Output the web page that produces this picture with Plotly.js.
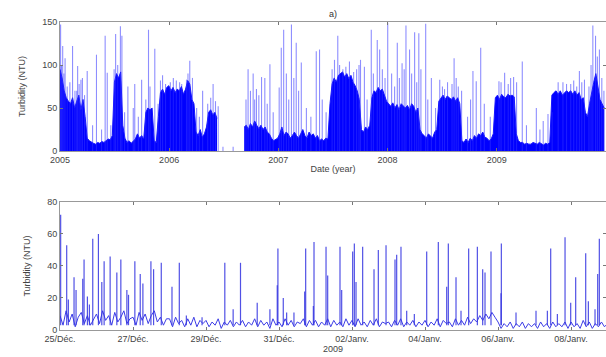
<!DOCTYPE html>
<html><head><meta charset="utf-8">
<script src="https://cdn.plot.ly/plotly-3.0.1.min.js"></script>
<style>html,body{margin:0;padding:0;background:#fff}#chart{width:606px;height:357px}</style>
</head><body><div id="chart"></div>
<script>
// ---------- Panel a) : 2005-2009, weekly level of the dense record (from 2005-01-01) ----------
const topWeeklyLevel = [
  // 2005
  95,85,70,62,58, 55,62,50,58, 65,48,60,40, 15,12,10,9, 8,10,9,11,10, 12,14,13,18,
  80,90,85,92,30, 15,10,12,9, 12,14,20,15, 18,14,45,50,48, 50,12,10,40, 68,72,66,74,
  // 2006
  76,70,74,68,72, 70,75,66,72, 82,78,60,55, 22,18,25,16, 20,28,45,48,42, 45,38,null,null,
  null,null,null,null,null, null,null,null,null, null,28,30,25, 32,28,35,30,26, 30,25,28,22, 20,15,12,14,
  // 2007
  15,20,28,18,22, 20,15,18,22, 18,15,20,25, 18,15,22,18, 20,15,18,12,14, 12,15,14,55,
  78,85,80,88,90, 92,86,90,84, 88,80,76,70, 60,25,22,28,25, 30,62,70,68, 74,70,72,66,
  // 2008
  58,55,52,56,50, 54,48,55,52, 50,53,48,55, 52,45,50,25, 20,18,15,20,18, 15,22,25,58,
  62,65,60,64,62, 60,63,58,62, 55,12,10,14, 10,15,12,18,15, 20,18,22,16, 15,12,14,20,
  // 2009
  62,65,60,66,63, 62,66,64,65, 63,20,12,10, 10,8,9,8, 8,10,9,8,10, 8,7,9,8,
  10,65,68,70,66, 70,65,68,70, 68,70,66,70, 65,68,60,62,45, 40,55,70,80, 90,75,60,55,50
];
const topPeakDates = [
  '2005-01-03','2005-01-06','2005-01-10','2005-01-14','2005-01-18','2005-01-25','2005-02-03','2005-02-12','2005-02-20','2005-02-26',
  '2005-03-01','2005-03-06','2005-03-12','2005-03-17','2005-03-24','2005-04-02','2005-04-20','2005-05-03','2005-05-20','2005-06-01',
  '2005-06-08','2005-06-20','2005-07-01','2005-07-06','2005-07-13','2005-07-22','2005-07-27','2005-08-05','2005-08-16','2005-09-03',
  '2005-09-08','2005-09-20','2005-10-01','2005-10-15','2005-10-24','2005-10-29','2005-11-14','2005-11-25','2005-12-03','2005-12-10',
  '2005-12-20','2006-01-05','2006-01-15','2006-01-25','2006-02-05','2006-02-12','2006-02-28','2006-03-05','2006-03-11','2006-03-20',
  '2006-04-03','2006-04-12','2006-04-23','2006-05-10','2006-05-20','2006-05-28','2006-06-05','2006-06-14','2006-06-30','2006-08-03',
  '2006-09-15','2006-09-22','2006-09-30','2006-10-09','2006-10-14','2006-10-20','2006-10-28','2006-11-06','2006-11-17','2006-11-25',
  '2006-12-04','2006-12-15','2007-01-04','2007-01-11','2007-01-19','2007-01-28','2007-02-05','2007-02-14','2007-02-22','2007-03-02',
  '2007-03-10','2007-03-19','2007-04-05','2007-04-20','2007-05-08','2007-05-19','2007-05-28','2007-06-10','2007-06-30','2007-07-08',
  '2007-07-19','2007-07-25','2007-08-05','2007-08-15','2007-08-27','2007-09-10','2007-09-20','2007-09-28','2007-10-03','2007-10-16',
  '2007-10-25','2007-11-08','2007-11-15','2007-11-28','2007-12-06','2007-12-15','2007-12-24','2008-01-02','2008-01-15','2008-01-25',
  '2008-02-03','2008-02-10','2008-02-19','2008-02-26','2008-03-03','2008-03-15','2008-03-22','2008-04-01','2008-04-08','2008-04-15',
  '2008-04-22','2008-05-08','2008-05-15','2008-05-27','2008-06-10','2008-06-24','2008-07-03','2008-07-10','2008-07-20','2008-08-04',
  '2008-08-11','2008-08-18','2008-08-25','2008-09-05','2008-09-25','2008-10-05','2008-10-13','2008-10-24','2008-11-08','2008-11-20',
  '2008-12-10','2009-01-08','2009-01-15','2009-01-27','2009-02-08','2009-02-16','2009-02-26','2009-03-08','2009-03-27','2009-04-10',
  '2009-05-13','2009-05-25','2009-06-05','2009-06-21','2009-07-05','2009-07-25','2009-08-10','2009-08-22','2009-09-05','2009-09-15',
  '2009-09-25','2009-10-04','2009-10-12','2009-10-21','2009-11-05','2009-11-12','2009-11-18','2009-11-27','2009-12-03','2009-12-10',
  '2009-12-18','2009-12-25'
];
const topPeakValues = [
  147,100,122,90,108,75,80,122,70,70,
  99,78,83,85,65,93,30,112,25,134,
  91,30,95,136,100,145,134,45,75,50,
  78,40,83,60,141,75,119,55,82,88,
  78,80,85,82,80,78,83,90,105,85,
  50,40,70,55,62,78,58,52,5,5,
  60,95,70,90,60,72,65,86,85,55,
  101,45,74,120,141,90,60,147,85,126,
  70,103,50,40,116,118,60,45,95,106,
  134,100,95,98,104,92,95,100,106,98,
  60,141,90,129,118,95,85,149,90,75,
  126,85,102,95,146,118,90,138,80,137,
  95,148,60,85,50,83,75,72,80,78,
  108,85,75,70,40,60,93,81,120,55,
  40,81,80,91,78,85,86,80,104,30,
  50,25,35,43,45,80,80,78,78,82,
  75,93,80,83,75,100,146,134,110,118,
  85,70
];

// ---------- Panel b) : 25 Dec 2008 - 8 Jan 2009 ----------
// background level every 2 hours from 2008-12-25 00:00
const lowBaseLevel = [
  9,3,12,5,10,2,8,11,4,9,3,7,
  10,4,12,6,9,3,11,5,8,12,4,7,
  8,3,11,6,10,4,9,12,5,8,3,7,
  7,2,8,4,6,2,7,3,8,2,6,4,
  6,2,5,3,7,1,5,3,6,2,5,3,
  6,2,5,3,7,2,6,3,5,1,7,3,
  5,2,7,3,6,2,5,4,7,2,6,3,
  6,2,5,3,7,2,6,3,5,2,7,3,
  6,2,7,3,5,2,6,3,7,2,5,4,
  5,2,6,3,7,2,5,3,6,2,5,3,
  6,2,5,3,7,2,6,4,5,2,7,3,
  6,3,8,4,7,5,9,6,10,7,11,8,
  5,1,4,2,5,1,4,2,5,1,4,2,
  4,1,5,2,4,1,5,2,4,2,5,1,
  5,2,4,1,6,2,5,1,4,2,5,2,
  4
];
const lowPeakTimes = [
  '2008-12-25 00:26','2008-12-25 04:24','2008-12-25 05:30','2008-12-25 09:14','2008-12-25 10:33','2008-12-25 14:57',
  '2008-12-25 15:49','2008-12-25 18:01','2008-12-25 19:20','2008-12-25 21:32','2008-12-26 01:16','2008-12-26 03:29',
  '2008-12-26 05:01','2008-12-26 08:58','2008-12-26 13:22','2008-12-26 16:00','2008-12-26 19:58','2008-12-26 21:03',
  '2008-12-27 01:13','2008-12-27 04:45','2008-12-27 06:30','2008-12-27 11:47','2008-12-27 13:32','2008-12-27 18:35',
  '2008-12-28 01:38','2008-12-28 06:27','2008-12-28 11:05','2008-12-28 21:24','2008-12-29 12:22','2008-12-29 17:51',
  '2008-12-29 22:41','2008-12-30 09:40','2008-12-30 18:01','2008-12-30 22:51','2008-12-30 23:17','2008-12-31 02:48',
  '2008-12-31 05:01','2008-12-31 09:50','2008-12-31 16:52','2008-12-31 17:32','2008-12-31 22:35','2008-12-31 23:01',
  '2009-01-01 06:55','2009-01-01 08:00','2009-01-01 16:06','2009-01-01 17:12','2009-01-02 00:26','2009-01-02 01:32',
  '2009-01-02 02:38','2009-01-02 07:00','2009-01-02 14:28','2009-01-02 17:18','2009-01-02 22:22','2009-01-03 04:16',
  '2009-01-03 05:22','2009-01-03 08:12','2009-01-03 11:57','2009-01-03 16:59','2009-01-04 01:06','2009-01-04 08:45',
  '2009-01-04 14:15','2009-01-04 15:20','2009-01-04 20:23','2009-01-04 23:40','2009-01-05 04:42','2009-01-05 10:25',
  '2009-01-05 13:55','2009-01-05 15:27','2009-01-05 19:23','2009-01-06 01:58','2009-01-06 02:11','2009-01-06 11:50',
  '2009-01-07 00:59','2009-01-07 08:27','2009-01-07 10:38','2009-01-07 15:02','2009-01-07 20:04','2009-01-07 23:47',
  '2009-01-08 03:04','2009-01-08 09:39','2009-01-08 11:24','2009-01-08 15:47','2009-01-08 17:32','2009-01-08 18:37'
];
const lowPeakValues = [
  72,53,19,33,25,32,
  44,21,16,57,60,30,
  43,46,36,44,25,22,
  43,35,29,43,38,42,
  27,42,9,8,42,13,
  42,17,13,28,51,20,
  11,11,24,51,15,55,
  52,34,52,25,49,54,
  30,52,38,50,53,44,
  47,52,12,10,49,55,
  27,54,33,12,51,52,
  38,36,49,23,54,11,
  12,12,51,10,58,17,
  33,48,18,13,35,57
];
const yearTicks = ['2005','2006','2007','2008','2009'];
const dayTickDates = ['2008-12-25','2008-12-27','2008-12-29','2008-12-31','2009-01-02','2009-01-04','2009-01-06','2009-01-08'];
const dayTickLabels = ['25/Déc.','27/Déc.','29/Déc.','31/Déc.','02/Janv.','04/Janv.','06/Janv.','08/Janv.'];

// ---------- build traces ----------
function pad(n){return (n<10?'0':'')+n;}
function stamp(ms, withTime){
  const t = new Date(ms);
  let s = t.getUTCFullYear()+'-'+pad(t.getUTCMonth()+1)+'-'+pad(t.getUTCDate());
  if (withTime) s += ' '+pad(t.getUTCHours())+':'+pad(t.getUTCMinutes());
  return s;
}
const DAY = 86400000;
const topWeeklyDates = topWeeklyLevel.map((v,i)=>stamp(Date.UTC(2005,0,1) + i*7*DAY, false));
// split the weekly record at missing values so the filled area does not bridge the gap
const topSegments = [];
let cur = null;
topWeeklyLevel.forEach((v,i)=>{
  if (v === null) { cur = null; return; }
  if (!cur) { cur = {x:[], y:[]}; topSegments.push(cur); }
  cur.x.push(topWeeklyDates[i]); cur.y.push(v);
});
function stems(xs, ys, base){
  const X=[],Y=[];
  xs.forEach((x,i)=>{X.push(x,x,null);Y.push(base,ys[i],null);});
  return {X,Y};
}
const topStem = stems(topPeakDates, topPeakValues, 0);
const lowBaseTimes = lowBaseLevel.map((v,i)=>stamp(Date.UTC(2008,11,25) + i*2*3600000, true));
const lowStem = stems(lowPeakTimes, lowPeakValues, 3);

const traces = [];
topSegments.forEach(s=>traces.push({x:s.x, y:s.y, type:'scatter', mode:'lines', fill:'tozeroy',
  fillcolor:'rgb(0,0,255)', line:{color:'rgb(20,20,255)', width:1}, xaxis:'x', yaxis:'y', hoverinfo:'skip'}));
traces.push({x: topStem.X, y: topStem.Y, type:'scatter', mode:'lines',
   line:{color:'rgba(50,50,255,0.55)', width:1.1}, xaxis:'x', yaxis:'y', hoverinfo:'skip'});
traces.push({x: lowBaseTimes, y: lowBaseLevel, type:'scatter', mode:'lines',
   line:{color:'rgb(60,60,230)', width:1}, xaxis:'x2', yaxis:'y2', hoverinfo:'skip'});
traces.push({x: lowStem.X, y: lowStem.Y, type:'scatter', mode:'lines',
   line:{color:'rgba(50,50,225,0.85)', width:1.2}, xaxis:'x2', yaxis:'y2', hoverinfo:'skip'});

const FONT = 'Liberation Sans, Arial, sans-serif';
const axisCommon = {ticks:'inside', ticklen:3, tickcolor:'#777', showline:true, mirror:'allticks',
  linecolor:'#999', linewidth:1, showgrid:false, zeroline:false,
  tickfont:{family:FONT, size:9, color:'#444'}};
const titleFont = {family:FONT, size:9, color:'#444'};

const layout = {
  width:606, height:357, margin:{l:60, r:0, t:22, b:27},
  paper_bgcolor:'#fff', plot_bgcolor:'#fff', showlegend:false,
  title:{text:'a)', x:0.5, xref:'paper', xanchor:'center', y:1-14/357, yanchor:'middle', font:{family:FONT, size:9, color:'#333'}},
  xaxis: Object.assign({}, axisCommon, {domain:[0,1], anchor:'y', type:'date',
    range:['2005-01-01','2010-01-01'], tickmode:'array',
    tickvals: yearTicks.map(y=>y+'-01-01'), ticktext: yearTicks,
    title:{text:'Date (year)', font:titleFont, standoff:1}}),
  yaxis: Object.assign({}, axisCommon, {domain:[0.581,1], anchor:'x', range:[0,150],
    tickvals:[0,50,100,150], title:{text:'Turbidity (NTU)', font:titleFont, standoff:15}}),
  xaxis2: Object.assign({}, axisCommon, {domain:[0,1], anchor:'y2', type:'date',
    range:['2008-12-25 00:00','2009-01-08 23:00'], tickmode:'array',
    tickvals: dayTickDates, ticktext: dayTickLabels,
    title:{text:'2009', font:titleFont, standoff:1}}),
  yaxis2: Object.assign({}, axisCommon, {domain:[0,0.4156], anchor:'x2', range:[0,80],
    tickvals:[0,20,40,60,80], title:{text:'Turbidity (NTU)', font:titleFont, standoff:15}})
};
Plotly.newPlot('chart', traces, layout, {displayModeBar:false, staticPlot:true});
</script></body></html>
